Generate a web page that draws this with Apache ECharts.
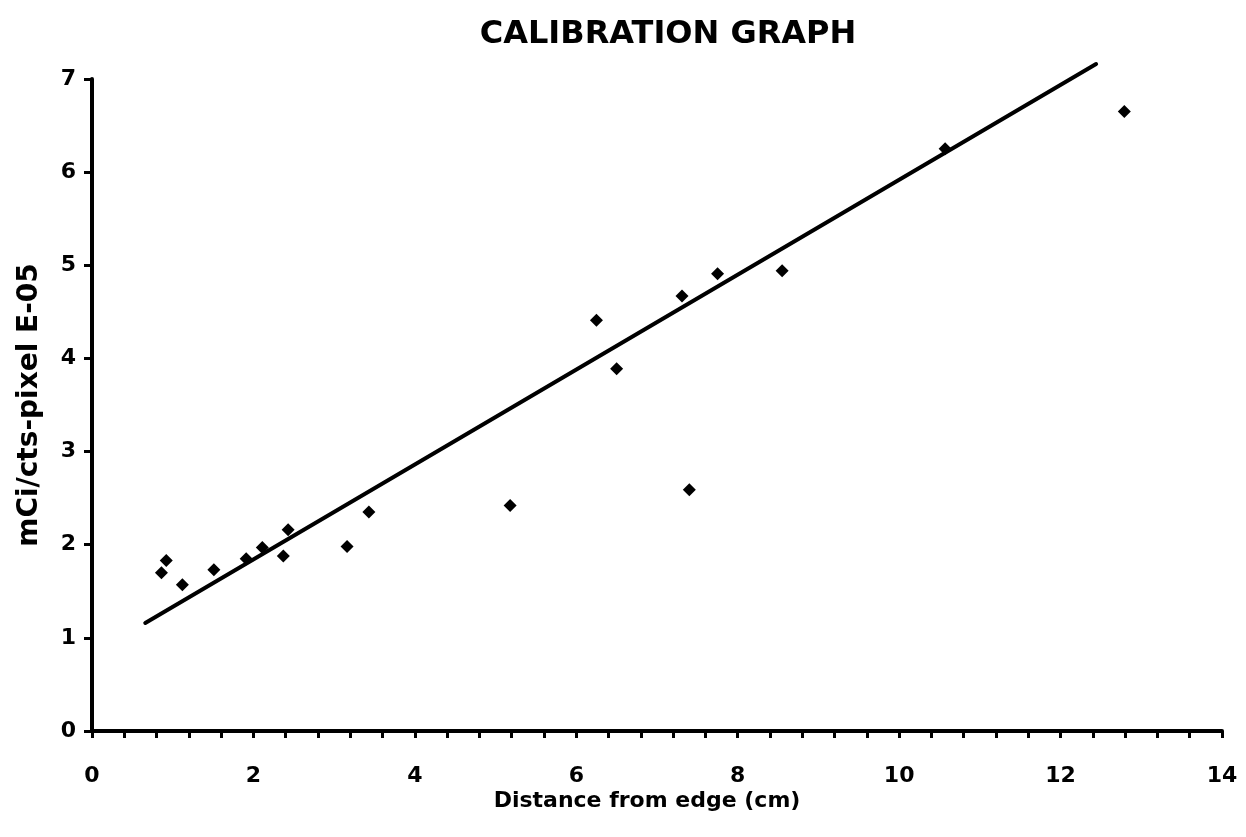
<!DOCTYPE html>
<html>
<head>
<meta charset="utf-8">
<script src="https://cdn.jsdelivr.net/npm/echarts@6/dist/echarts.min.js"></script>
<style>
html,body{margin:0;padding:0;background:#fff;}
#chart{width:1246px;height:837px;}
</style>
</head>
<body>
<div id="chart"></div>
<script>
// Data
var distance = [0.86, 0.92, 1.12, 1.51, 1.91, 2.11, 2.37, 2.43, 3.16, 3.43, 5.18, 6.25, 6.50, 7.31, 7.40, 7.75, 8.55, 10.57, 12.79];
var calib    = [1.70, 1.83, 1.57, 1.73, 1.85, 1.97, 1.88, 2.16, 1.98, 2.35, 2.42, 4.41, 3.89, 4.67, 2.59, 4.91, 4.94, 6.25, 6.65];
var trendX = [0.66, 12.44];
var trendY = [1.16, 7.16];
var xTickLabels = ['0', '2', '4', '6', '8', '10', '12', '14'];
var yTickLabels = ['0', '1', '2', '3', '4', '5', '6', '7'];

var font = 'DejaVu Sans';
var pts = distance.map(function (x, i) { return [x, calib[i]]; });
var trend = trendX.map(function (x, i) { return [x, trendY[i]]; });

var chart = echarts.init(document.getElementById('chart'));
chart.setOption({
  backgroundColor: '#fff',
  animation: false,
  title: {
    text: 'CALIBRATION GRAPH',
    left: 663,
    top: 14,
    textAlign: 'center',
    textStyle: { fontFamily: font, fontWeight: 'bold', fontSize: 32, color: '#000' }
  },
  grid: { left: 92, right: 24, top: 79, bottom: 106, containLabel: false },
  xAxis: {
    type: 'value',
    min: 0, max: 14, interval: 0.4,
    name: 'Distance from edge (cm)',
    nameLocation: 'middle',
    nameGap: 59,
    nameMoveOverlap: false,
    nameTextStyle: { fontFamily: font, fontWeight: 'bold', fontSize: 22, color: '#000', padding: [0, 20, 0, 0] },
    axisLine: { show: true, lineStyle: { color: '#000', width: 4 } },
    axisTick: { show: true, length: 7, lineStyle: { color: '#000', width: 3 } },
    axisLabel: {
      fontFamily: font, fontWeight: 'bold', fontSize: 22, color: '#000', margin: 34,
      showMinLabel: true, showMaxLabel: true,
      formatter: function (v) {
        var k = Math.round(v / 2);
        if (Math.abs(v - k * 2) < 1e-6 && xTickLabels[k] !== undefined) return xTickLabels[k];
        return '';
      }
    },
    splitLine: { show: false }
  },
  yAxis: {
    type: 'value',
    min: 0, max: 7, interval: 1,
    name: 'mCi/cts-pixel E-05',
    nameLocation: 'middle',
    nameGap: 48,
    nameMoveOverlap: false,
    nameTextStyle: { fontFamily: font, fontWeight: 'bold', fontSize: 28, color: '#000' },
    axisLine: { show: true, lineStyle: { color: '#000', width: 4 } },
    axisTick: { show: true, length: 8, lineStyle: { color: '#000', width: 3 } },
    axisLabel: {
      fontFamily: font, fontWeight: 'bold', fontSize: 22, color: '#000', margin: 16,
      formatter: function (v) { return yTickLabels[Math.round(v)]; }
    },
    splitLine: { show: false }
  },
  series: [
    {
      type: 'line',
      data: trend,
      showSymbol: false,
      symbol: 'none',
      clip: false,
      lineStyle: { color: '#000', width: 4, cap: 'round' },
      z: 2
    },
    {
      type: 'scatter',
      data: pts,
      symbol: 'diamond',
      symbolSize: 13,
      clip: false,
      itemStyle: { color: '#000', opacity: 1 },
      z: 3
    }
  ]
});
</script>
</body>
</html>
